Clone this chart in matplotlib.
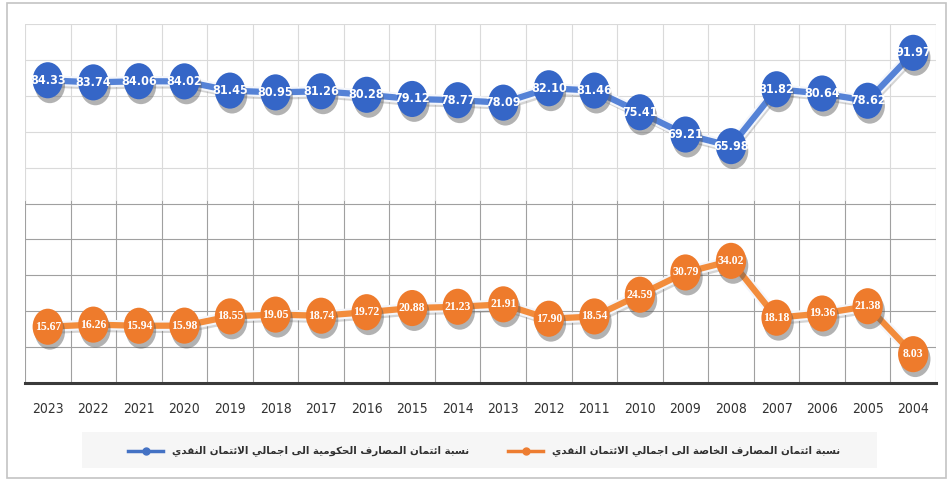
import matplotlib
matplotlib.use("Agg")
import matplotlib.pyplot as plt
import matplotlib.patheffects as pe
from matplotlib.path import Path
from matplotlib.transforms import Affine2D
from matplotlib.patches import Rectangle
from matplotlib.lines import Line2D
from matplotlib import font_manager

# ---- data -------------------------------------------------------------
years = ["2023", "2022", "2021", "2020", "2019", "2018", "2017", "2016", "2015", "2014",
         "2013", "2012", "2011", "2010", "2009", "2008", "2007", "2006", "2005", "2004"]
gov_share = [84.33, 83.74, 84.06, 84.02, 81.45, 80.95, 81.26, 80.28, 79.12, 78.77,
             78.09, 82.10, 81.46, 75.41, 69.21, 65.98, 81.82, 80.64, 78.62, 91.97]
private_share = [15.67, 16.26, 15.94, 15.98, 18.55, 19.05, 18.74, 19.72, 20.88, 21.23,
                 21.91, 17.90, 18.54, 24.59, 30.79, 34.02, 18.18, 19.36, 21.38, 8.03]
gov_label = "نسبة ائتمان المصارف الحكومية الى اجمالي الائتمان النقدي"
private_label = "نسبة ائتمان المصارف الخاصة الى اجمالي الائتمان النقدي"

# ---- minimal Arabic shaping (presentation forms + visual order) --------
# letter: (isolated, final, initial, medial); None for non-joining forms
FORMS = {
    "ا": (0xFE8D, 0xFE8E, None, None),
    "ئ": (0xFE89, 0xFE8A, 0xFE8B, 0xFE8C),
    "ب": (0xFE8F, 0xFE90, 0xFE91, 0xFE92),
    "ة": (0xFE93, 0xFE94, None, None),
    "ت": (0xFE95, 0xFE96, 0xFE97, 0xFE98),
    "ج": (0xFE9D, 0xFE9E, 0xFE9F, 0xFEA0),
    "ح": (0xFEA1, 0xFEA2, 0xFEA3, 0xFEA4),
    "خ": (0xFEA5, 0xFEA6, 0xFEA7, 0xFEA8),
    "د": (0xFEA9, 0xFEAA, None, None),
    "ر": (0xFEAD, 0xFEAE, None, None),
    "س": (0xFEB1, 0xFEB2, 0xFEB3, 0xFEB4),
    "ص": (0xFEB9, 0xFEBA, 0xFEBB, 0xFEBC),
    "ف": (0xFED1, 0xFED2, 0xFED3, 0xFED4),
    "ق": (0xFED5, 0xFED6, 0xFED7, 0xFED8),
    "ك": (0xFED9, 0xFEDA, 0xFEDB, 0xFEDC),
    "ل": (0xFEDD, 0xFEDE, 0xFEDF, 0xFEE0),
    "م": (0xFEE1, 0xFEE2, 0xFEE3, 0xFEE4),
    "ن": (0xFEE5, 0xFEE6, 0xFEE7, 0xFEE8),
    "ه": (0xFEE9, 0xFEEA, 0xFEEB, 0xFEEC),
    "و": (0xFEED, 0xFEEE, None, None),
    "ى": (0xFEEF, 0xFEF0, None, None),
    "ي": (0xFEF1, 0xFEF2, 0xFEF3, 0xFEF4),
}


def joins_next(ch):
    return ch in FORMS and FORMS[ch][2] is not None


def shape_word(word):
    out = []
    i = 0
    n = len(word)
    while i < n:
        ch = word[i]
        prev_joins = i > 0 and joins_next(word[i - 1])
        if ch == "ل" and i + 1 < n and word[i + 1] == "ا":
            out.append(chr(0xFEFC if prev_joins else 0xFEFB))
            i += 2
            continue
        f = FORMS.get(ch)
        if f is None:
            out.append(ch)
            i += 1
            continue
        next_join = joins_next(ch) and i + 1 < n and word[i + 1] in FORMS
        if prev_joins and next_join:
            code = f[3]
        elif prev_joins:
            code = f[1]
        elif next_join:
            code = f[2]
        else:
            code = f[0]
        out.append(chr(code))
        i += 1
    return "".join(out)


def arabic(text):
    shaped = " ".join(shape_word(w) for w in text.split(" "))
    return shaped[::-1]


# narrow font for numbers, if a condensed face is available
names = {f.name for f in font_manager.fontManager.ttflist}
condensed = [f for f in font_manager.fontManager.ttflist
             if f.name == "DejaVu Sans" and "ondensed" in str(f.stretch) + f.fname]
narrow_family = ["Liberation Sans Narrow"] if "Liberation Sans Narrow" in names else ["DejaVu Sans"]
narrow_stretch = "condensed" if condensed else "normal"

# ---- figure -----------------------------------------------------------
W, H = 953, 483
fig = plt.figure(figsize=(W / 100, H / 100), dpi=100)
fig.patch.set_facecolor("white")

def fx(px):
    return px / W

def fy(py):
    return 1 - py / H

left, right, top, bottom = 25, 936, 24, 383
ax = fig.add_axes([fx(left), fy(bottom), fx(right - left), fy(top) - fy(bottom)])
ax.set_xlim(-0.5, len(years) - 0.5)
ax.set_ylim(0, 100)
for s in ("left", "right", "top"):
    ax.spines[s].set_visible(False)
ax.spines["bottom"].set_color("#3a3a3a")
ax.spines["bottom"].set_linewidth(2.2)
ax.spines["bottom"].set_zorder(6)
ax.set_yticks([])

# grid: lighter in the upper half, darker in the lower half
split = 51
for k in range(len(years) + 1):
    xv = k - 0.5
    ax.plot([xv, xv], [0, split], color="#a0a0a0", lw=0.8, zorder=1)
    ax.plot([xv, xv], [split, 100], color="#dadada", lw=0.8, zorder=1)
for yv in range(10, 101, 10):
    ax.axhline(yv, color="#a0a0a0" if yv <= 50 else "#dadada", lw=0.8, zorder=1)

x = list(range(len(years)))
ax.set_xticks(x)
ax.set_xticklabels(years, family=narrow_family, fontstretch=narrow_stretch,
                   fontsize=10, color="#333333")
ax.tick_params(axis="x", length=0, pad=14)

# oval marker, slightly taller than wide
oval = Path.unit_circle().transformed(Affine2D().scale(0.84, 1.0))

mark_shadow = pe.SimplePatchShadow(offset=(1.5, -3.5), shadow_rgbFace="#555555", alpha=0.45)
line_shadow = pe.SimpleLineShadow(offset=(1.2, -3.0), shadow_color="#666666", alpha=0.28)

series = [
    (gov_share, "#5582d6", "#3566c7", narrow_family, narrow_stretch, 9),
    (private_share, "#f28c3c", "#ee7b2c", ["Liberation Serif", "DejaVu Serif"], "normal", 8.5),
]
for vals, line_c, mark_c, fam, stretch, fsz in series:
    ax.plot(x, vals, color=line_c, lw=4.5, zorder=3, solid_capstyle="round",
            path_effects=[line_shadow, pe.Stroke(linewidth=7.5, foreground="#f4f6fb"),
                          pe.Normal()])
    ax.plot(x, vals, ls="none", marker=oval, markersize=26, color=mark_c,
            markeredgewidth=0, zorder=4, path_effects=[mark_shadow, pe.Normal()])
    for xi, v in zip(x, vals):
        ax.text(xi, v, f"{v:.2f}", ha="center", va="center", color="white",
                fontsize=fsz, fontweight="bold", family=fam, fontstretch=stretch,
                zorder=5)

# outer frame
fig.patches.append(Rectangle((fx(7), fy(478)), fx(946 - 7), fy(3) - fy(478),
                             transform=fig.transFigure, fill=False,
                             edgecolor="#c4c4c4", lw=1.2))

# legend
fig.patches.append(Rectangle((fx(82), fy(468)), fx(877 - 82), fy(432) - fy(468),
                             transform=fig.transFigure, facecolor="#f6f6f6",
                             edgecolor="none"))
ly = fy(451)
for (x0, x1, tx), col, lab in [((128, 163, 172), "#4472c4", gov_label),
                              ((508, 543, 552), "#ed7d31", private_label)]:
    fig.add_artist(Line2D([fx(x0), fx(x1)], [ly, ly], transform=fig.transFigure,
                          color=col, lw=2.5))
    fig.add_artist(Line2D([fx((x0 + x1) / 2)], [ly], transform=fig.transFigure,
                          marker="o", markersize=5, color=col))
    fig.text(fx(tx), ly, arabic(lab), ha="left", va="center", fontsize=7.4,
             fontweight="bold", color="#303030", family="DejaVu Sans")

fig.savefig("out.png", dpi=100)
